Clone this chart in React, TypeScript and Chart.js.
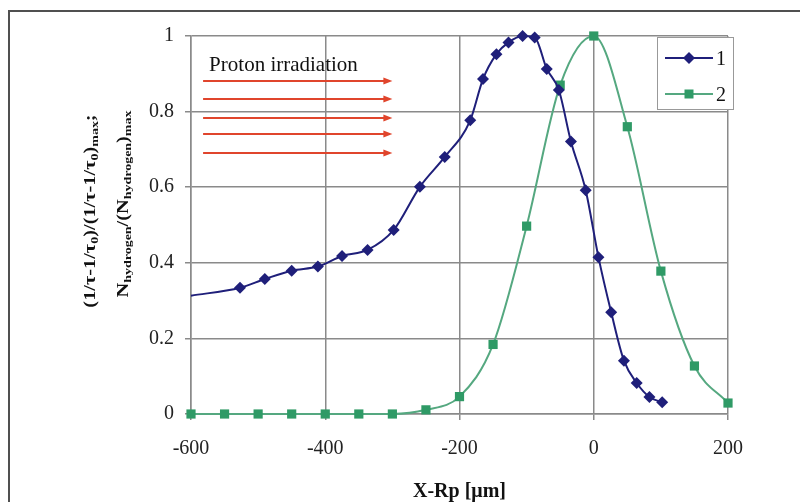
import React, { useEffect, useRef } from 'react';
import { Chart, registerables } from 'chart.js';

Chart.register(...registerables);

// ---- data ----
const s1X = [-600, -527, -490, -450, -411, -375, -337, -298, -259, -222, -184, -165, -145, -127, -106, -88, -70, -52, -34, -12, 7, 26, 45, 64, 83, 102];
const s1Y = [0.313, 0.334, 0.357, 0.379, 0.39, 0.418, 0.434, 0.487, 0.601, 0.68, 0.777, 0.886, 0.952, 0.983, 1.0, 0.996, 0.913, 0.857, 0.721, 0.592, 0.415, 0.269, 0.141, 0.082, 0.045, 0.031];
const s2X = [-600, -550, -500, -450, -400, -350, -300, -250, -200, -150, -100, -50, 0, 50, 100, 150, 200];
const s2Y = [0, 0, 0, 0, 0, 0, 0, 0.011, 0.046, 0.184, 0.497, 0.87, 1.0, 0.76, 0.378, 0.127, 0.029];
const xTicks = [-600, -400, -200, 0, 200];
const yTicks = [0, 0.2, 0.4, 0.6, 0.8, 1];
const seriesNames = ['1', '2'];
const annotationText = 'Proton irradiation';
const arrowRows = [0.88, 0.834, 0.783, 0.742, 0.691];
const arrowFrom = -582;
const arrowTo = -300;
const xTitle = 'X-Rp [\u03bcm]';

const SERIF = '"Liberation Serif", "Times New Roman", serif';
const C1 = '#1f1f7a';
const C2L = '#55a880';
const C2M = '#2f9a66';
const GRID = '#8a8a8a';
const RED = '#e0452c';

type Seg = { t: string; sub?: boolean };
const yTitle1: Seg[] = [
  { t: '(1/\u03c4-1/\u03c4' }, { t: '0', sub: true }, { t: ')/(1/\u03c4-1/\u03c4' }, { t: '0', sub: true }, { t: ')' }, { t: 'max', sub: true }, { t: ';' },
];
const yTitle2: Seg[] = [
  { t: 'N' }, { t: 'hydrogen', sub: true }, { t: '/(N' }, { t: 'hydrogen', sub: true }, { t: ')' }, { t: 'max', sub: true },
];

function richVertical(ctx: CanvasRenderingContext2D, segs: Seg[], baselineX: number, centerY: number, stretch: number) {
  const main = `bold 16px ${SERIF}`;
  const sub = `bold 11px ${SERIF}`;
  let total = 0;
  const widths: number[] = [];
  for (const s of segs) {
    ctx.font = s.sub ? sub : main;
    const w = ctx.measureText(s.t).width;
    widths.push(w);
    total += w;
  }
  ctx.save();
  ctx.translate(baselineX, centerY);
  ctx.rotate(-Math.PI / 2);
  ctx.scale(stretch, 1);
  ctx.fillStyle = '#111';
  ctx.textAlign = 'left';
  ctx.textBaseline = 'alphabetic';
  let x = -total / 2;
  segs.forEach((s, i) => {
    ctx.font = s.sub ? sub : main;
    ctx.fillText(s.t, x, s.sub ? 3 : 0);
    x += widths[i];
  });
  ctx.restore();
}

const decor = {
  id: 'decor',
  beforeDraw(chart: any) {
    const ctx = chart.ctx as CanvasRenderingContext2D;
    ctx.save();
    ctx.fillStyle = '#ffffff';
    ctx.fillRect(0, 0, chart.width, chart.height);
    ctx.strokeStyle = '#505050';
    ctx.lineWidth = 2;
    ctx.beginPath();
    ctx.moveTo(9, chart.height);
    ctx.lineTo(9, 11);
    ctx.lineTo(chart.width, 11);
    ctx.stroke();
    ctx.restore();
  },
  beforeDatasetsDraw(chart: any) {
    const ctx = chart.ctx as CanvasRenderingContext2D;
    const xs = chart.scales.x;
    const ys = chart.scales.y;
    ctx.save();
    ctx.strokeStyle = RED;
    ctx.fillStyle = RED;
    ctx.lineWidth = 2;
    const x1 = xs.getPixelForValue(arrowFrom);
    const x2 = xs.getPixelForValue(arrowTo);
    for (const r of arrowRows) {
      const y = Math.round(ys.getPixelForValue(r));
      ctx.beginPath();
      ctx.moveTo(x1, y);
      ctx.lineTo(x2 - 7, y);
      ctx.stroke();
      ctx.beginPath();
      ctx.moveTo(x2, y);
      ctx.lineTo(x2 - 9, y - 3.5);
      ctx.lineTo(x2 - 9, y + 3.5);
      ctx.closePath();
      ctx.fill();
    }
    ctx.fillStyle = '#111';
    ctx.font = `21px ${SERIF}`;
    ctx.textAlign = 'left';
    ctx.textBaseline = 'alphabetic';
    ctx.fillText(annotationText, xs.getPixelForValue(-573), ys.getPixelForValue(0.907));
    ctx.restore();
  },
  afterDraw(chart: any) {
    const ctx = chart.ctx as CanvasRenderingContext2D;
    const area = chart.chartArea;
    ctx.save();
    // legend box
    const bx = 657, by = 37, bw = 76, bh = 72;
    ctx.fillStyle = '#ffffff';
    ctx.fillRect(bx, by, bw, bh);
    ctx.strokeStyle = '#999999';
    ctx.lineWidth = 1;
    ctx.strokeRect(bx + 0.5, by + 0.5, bw, bh);
    const rows = [58, 94];
    const colors = [C1, C2L];
    const mColors = [C1, C2M];
    seriesNames.forEach((name, i) => {
      const y = rows[i];
      ctx.strokeStyle = colors[i];
      ctx.lineWidth = 2;
      ctx.beginPath();
      ctx.moveTo(665, y);
      ctx.lineTo(713, y);
      ctx.stroke();
      ctx.fillStyle = mColors[i];
      ctx.beginPath();
      if (i === 0) {
        ctx.moveTo(689 - 6, y);
        ctx.lineTo(689, y - 6);
        ctx.lineTo(689 + 6, y);
        ctx.lineTo(689, y + 6);
        ctx.closePath();
      } else {
        ctx.rect(689 - 4.5, y - 4.5, 9, 9);
      }
      ctx.fill();
      ctx.fillStyle = '#111';
      ctx.font = `20px ${SERIF}`;
      ctx.textAlign = 'left';
      ctx.textBaseline = 'alphabetic';
      ctx.fillText(name, 716, y + 7);
    });
    // x title
    ctx.fillStyle = '#111';
    ctx.font = `bold 20px ${SERIF}`;
    ctx.textAlign = 'center';
    ctx.fillText(xTitle, (area.left + area.right) / 2, 497);
    // y title
    richVertical(ctx, yTitle1, 95, 211, 1.27);
    richVertical(ctx, yTitle2, 128, 204, 1.27);
    ctx.restore();
  },
};

export default function App() {
  const ref = useRef<HTMLCanvasElement | null>(null);
  useEffect(() => {
    if (!ref.current) return;
    const chart = new Chart(ref.current, {
      type: 'line',
      data: {
        datasets: [
          {
            label: seriesNames[0],
            data: s1X.map((x, i) => ({ x, y: s1Y[i] })),
            borderColor: C1,
            backgroundColor: C1,
            borderWidth: 2,
            pointStyle: 'rectRot',
            pointRadius: (c: any) => (c.dataIndex === 0 ? 0 : 6),
            pointBorderWidth: 0,
            cubicInterpolationMode: 'monotone',
            clip: false,
          } as any,
          {
            label: seriesNames[1],
            data: s2X.map((x, i) => ({ x, y: s2Y[i] })),
            borderColor: C2L,
            backgroundColor: C2M,
            pointBorderColor: C2M,
            borderWidth: 2,
            pointStyle: 'rect',
            pointRadius: 6.5,
            pointBorderWidth: 0,
            cubicInterpolationMode: 'monotone',
            clip: false,
          } as any,
        ],
      },
      options: {
        animation: false,
        responsive: false,
        layout: { padding: { left: 0, right: 72, top: 36, bottom: 0 } },
        plugins: { legend: { display: false }, tooltip: { enabled: false } },
        scales: {
          x: {
            type: 'linear',
            min: -600,
            max: 200,
            afterBuildTicks: (s: any) => { s.ticks = xTicks.map((v) => ({ value: v })); },
            afterFit: (s: any) => { s.height = 88; },
            ticks: { font: { family: SERIF, size: 20 }, color: '#222', padding: 17, maxRotation: 0, callback: (v: any) => String(v) },
            grid: { color: GRID, lineWidth: 1.5, tickLength: 6, tickColor: GRID },
            border: { color: GRID, width: 1.5 },
          },
          y: {
            type: 'linear',
            min: 0,
            max: 1,
            afterBuildTicks: (s: any) => { s.ticks = yTicks.map((v) => ({ value: v })); },
            afterFit: (s: any) => { s.width = 191; },
            ticks: { font: { family: SERIF, size: 20 }, color: '#222', padding: 11, callback: (v: any) => String(Math.round(v * 10) / 10) },
            grid: { color: GRID, lineWidth: 1.5, tickLength: 6, tickColor: GRID },
            border: { color: GRID, width: 1.5 },
          },
        },
      } as any,
      plugins: [decor],
    });
    return () => chart.destroy();
  }, []);
  return (
    <div style={{ position: 'absolute', left: 0, top: 0, width: 800, height: 502 }}>
      <canvas ref={ref} width={800} height={502} style={{ display: 'block' }} />
    </div>
  );
}
